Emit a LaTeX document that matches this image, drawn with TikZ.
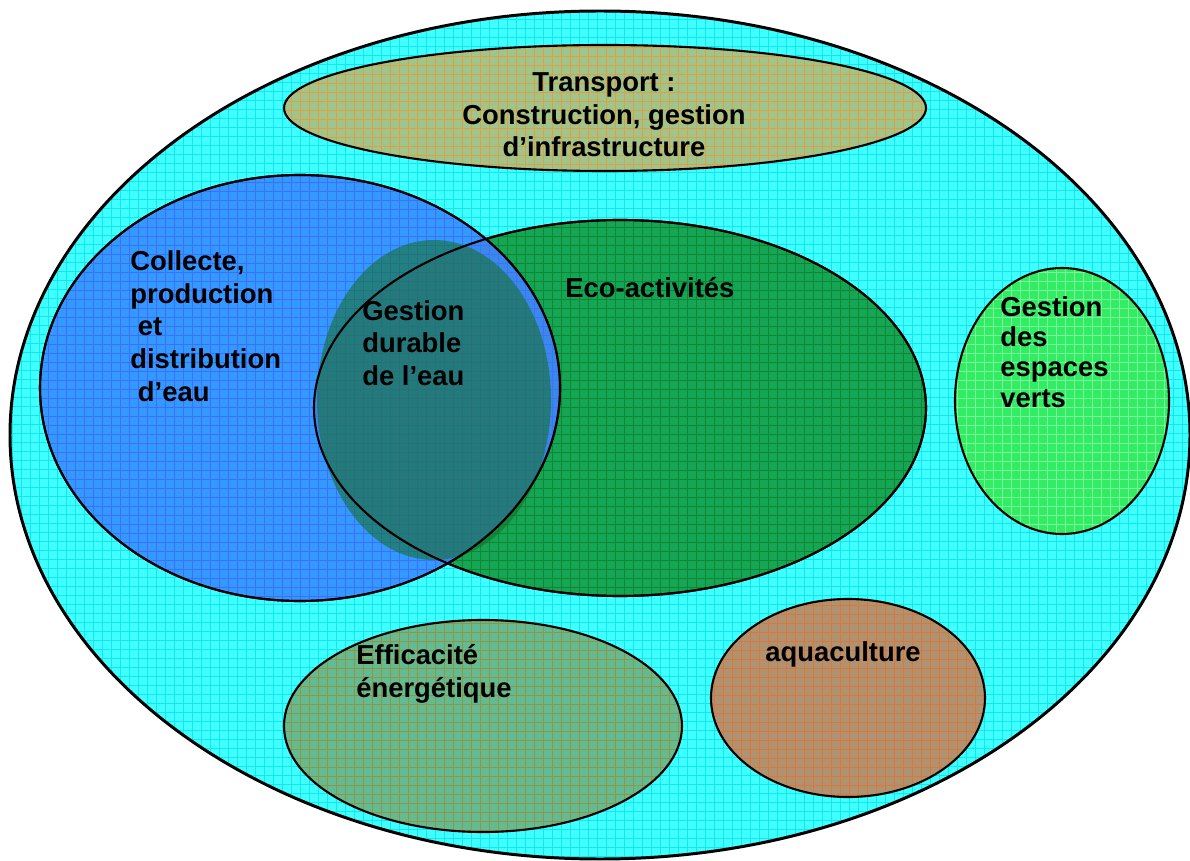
\documentclass[tikz,border=0pt]{standalone}
\usepackage{fontspec}
\setmainfont{Liberation Sans}
\usetikzlibrary{patterns.meta}
\definecolor{cyanfill}{RGB}{64,255,255}
\definecolor{cyangrid}{RGB}{20,230,240}
\definecolor{transfill}{RGB}{160,196,138}
\definecolor{transgrid}{RGB}{220,160,70}
\definecolor{waterfill}{RGB}{51,153,255}
\definecolor{watergrid}{RGB}{60,110,255}
\definecolor{ecofill}{RGB}{20,165,85}
\definecolor{ecogrid}{RGB}{15,135,50}
\definecolor{vertfill}{RGB}{51,236,102}
\definecolor{vertgrid}{RGB}{120,250,150}
\definecolor{energyfill}{RGB}{100,186,145}
\definecolor{energygrid}{RGB}{145,150,70}
\definecolor{aquafill}{RGB}{176,146,112}
\definecolor{aquagrid}{RGB}{215,120,60}
\definecolor{shadowgreen}{RGB}{22,112,45}
\tikzdeclarepattern{
  name=cellgrid,
  type=uncolored,
  bounding box={(0,0) and (0.18cm,0.18cm)},
  tile size={(0.18cm,0.18cm)},
  code={
    \draw[line width=0.4pt] (0,0.09cm) -- (0.18cm,0.09cm) (0.09cm,0) -- (0.09cm,0.18cm);
  }
}
\tikzset{
  zone/.style 2 args={%
    preaction={fill=#1},
    preaction={pattern=cellgrid, pattern color=#2},
    draw=black,
    line width=1.2pt},
  txt/.style={%
    inner sep=0pt,
    align=left,
    font=\fontsize{15.6}{18.4}\selectfont\bfseries},
}

\begin{document}
\begin{tikzpicture}[x=0.02cm, y=-0.02cm]
  \useasboundingbox (0,0) rectangle (1190,861);
  \coordinate (outer) at (600,435);
  \coordinate (transport) at (605,108);
  \coordinate (water) at (300,388);
  \coordinate (eco) at (620,408);
  \coordinate (durable) at (434,400);
  \coordinate (verts) at (1062,401);
  \coordinate (energy) at (483,726);
  \coordinate (aqua) at (848,698);

  \path[zone={cyanfill}{cyangrid}, line width=1.7pt] (outer) ellipse [x radius=590, y radius=424];
  \path[zone={transfill}{transgrid}] (transport) ellipse [x radius=321, y radius=63];
  \path[zone={vertfill}{vertgrid}] (verts) ellipse [x radius=107, y radius=133];
  \path[zone={energyfill}{energygrid}] (energy) ellipse [x radius=199, y radius=106];
  \path[zone={aquafill}{aquagrid}] (aqua) ellipse [x radius=137, y radius=99];

  % eau et eco-activites
  \path[zone={ecofill}{ecogrid}] (eco) ellipse [x radius=306, y radius=188];
  \path[zone={waterfill}{watergrid}] (water) ellipse [x radius=260, y radius=213];
  \begin{scope}
    \clip (water) ellipse [x radius=260, y radius=213];
    \fill[waterfill!80!violet, fill opacity=0.55] (eco) ellipse [x radius=306, y radius=188];
  \end{scope}
  \fill[shadowgreen, fill opacity=0.6] (durable) ellipse [x radius=117, y radius=160];
  \draw[line width=1.2pt] (eco) ellipse [x radius=306, y radius=188];
  \draw[line width=1.2pt] (water) ellipse [x radius=260, y radius=213];

  \node[txt, align=center] (t1) at (604,115) {Transport :\\Construction, gestion\\d’infrastructure};
  \node[txt, anchor=west, font=\fontsize{15.6}{18.6}\selectfont\bfseries] (t2) at (130,326)
    {Collecte,\\production\\\ et\\distribution\\\ d’eau};
  \node[txt, anchor=west] (t3) at (362,343) {Gestion\\durable\\de l’eau};
  \node[txt, anchor=west] (t4) at (565,288) {Eco-activités};
  \node[txt, anchor=west, font=\fontsize{15.6}{17.2}\selectfont\bfseries] (t5) at (1000,352)
    {Gestion\\des\\espaces\\verts};
  \node[txt, anchor=west] (t6) at (356,674) {Efficacité\\énergétique};
  \node[txt, anchor=west] (t7) at (765,654) {aquaculture};
\end{tikzpicture}
\end{document}
